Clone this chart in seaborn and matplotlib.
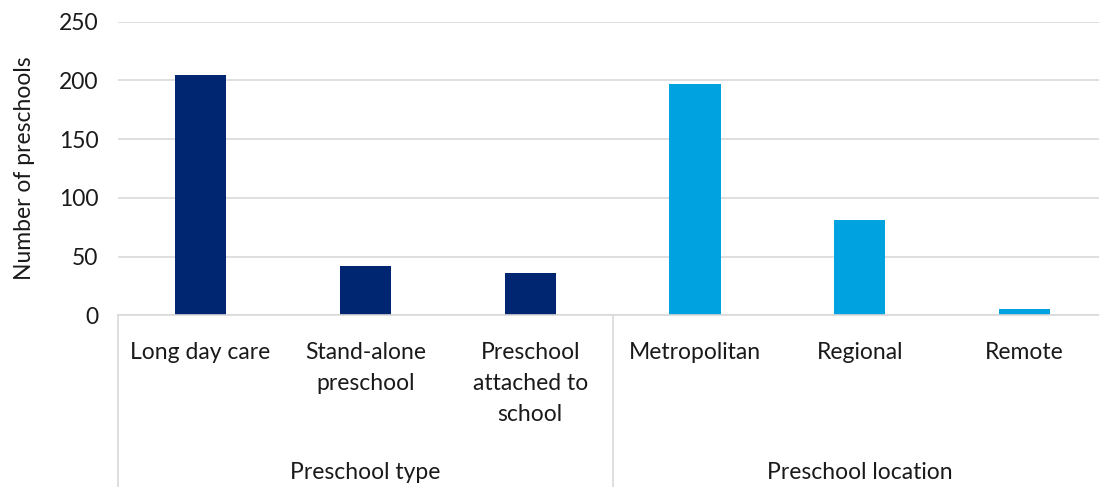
import matplotlib
matplotlib.use("Agg")
import matplotlib.pyplot as plt
import matplotlib.transforms as mtransforms
import pandas as pd
import seaborn as sns

categories = ["Long day care", "Stand-alone\npreschool", "Preschool\nattached to\nschool",
              "Metropolitan", "Regional", "Remote"]
groups = ["Preschool type", "Preschool type", "Preschool type",
          "Preschool location", "Preschool location", "Preschool location"]
counts = [205, 42, 36, 197, 81, 5]
group_names = ["Preschool type", "Preschool location"]
group_colors = {"Preschool type": "#002672", "Preschool location": "#00A2DF"}

df = pd.DataFrame({"category": categories, "group": groups, "count": counts})

sns.set_theme(style="white")
plt.rcParams["font.family"] = ["Lato", "DejaVu Sans"]
text_color = "#1a1a1a"
grid_color = "#d9d9d9"
fs = 16.5

fig = plt.figure(figsize=(10.99, 4.87), dpi=100)
ax = fig.add_axes([0.1074, 0.3526, 0.9, 0.6028])

sns.barplot(data=df, x="category", y="count", hue="group", palette=group_colors,
            order=categories, dodge=False, width=0.31, legend=False, ax=ax,
            edgecolor="none", saturation=1)

ax.set_ylim(0, 250)
ax.set_xlim(-0.5, len(categories) - 0.5)
ax.set_yticks(range(0, 251, 50))
ax.yaxis.grid(True, color=grid_color, linewidth=1.2)
ax.set_axisbelow(True)
for side in ["top", "right", "left"]:
    ax.spines[side].set_visible(False)
ax.spines["bottom"].set_color(grid_color)
ax.spines["bottom"].set_linewidth(1.2)
ax.tick_params(axis="both", length=0, labelsize=fs, colors=text_color)
ax.tick_params(axis="x", pad=19)
ax.tick_params(axis="y", pad=14)
for lab in ax.get_xticklabels():
    lab.set_linespacing(1.6)

ax.set_xlabel("")
ax.set_ylabel("Number of preschools", fontsize=fs, color=text_color, labelpad=17)

# group separators and labels below the axis
trans = mtransforms.blended_transform_factory(ax.transData, ax.transAxes)
for xpos in [-0.5, 2.5, 5.5]:
    ax.plot([xpos, xpos], [0, -0.6], transform=trans, color=grid_color,
            linewidth=1.2, clip_on=False)
for i, name in enumerate(group_names):
    ax.text(1 + 3 * i, -0.537, name, transform=trans, ha="center", va="center",
            fontsize=fs, color=text_color)

fig.savefig("out.png", dpi=100)
